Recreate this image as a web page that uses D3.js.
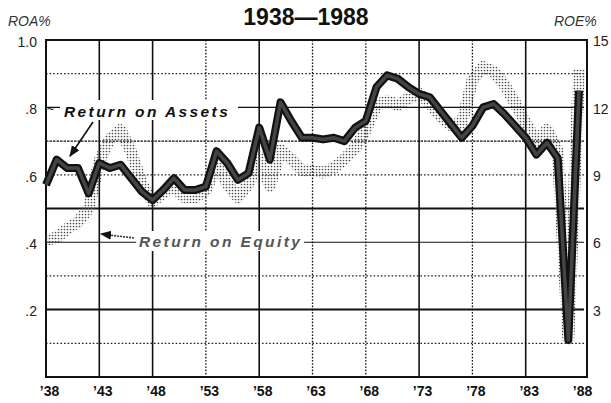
<!DOCTYPE html>
<html>
<head>
<meta charset="utf-8">
<script src="https://cdn.jsdelivr.net/npm/d3@7"></script>
<style>
  body { margin: 0; background: #fff; }
  svg { font-family: "Liberation Sans", Arial, sans-serif; }
</style>
</head>
<body>
<div id="chart"></div>
<script>
const width = 611, height = 403;
const pad = {l: 46, r: 24, t: 40, b: 26};

const years = d3.range(1938, 1989);
const roa = [0.57, 0.645, 0.62, 0.62, 0.545, 0.635, 0.62, 0.63, 0.59, 0.55,
             0.525, 0.555, 0.59, 0.555, 0.555, 0.565, 0.67, 0.635, 0.585, 0.605,
             0.74, 0.645, 0.815, 0.76, 0.71, 0.71, 0.705, 0.71, 0.70, 0.74,
             0.76, 0.86, 0.895, 0.885, 0.86, 0.84, 0.83, 0.79, 0.75, 0.71,
             0.745, 0.80, 0.81, 0.78, 0.745, 0.71, 0.66, 0.695, 0.65, 0.11,
             0.85];
const roe = [6.1, 6.2, 6.6, 6.9, 7.5, 9.6, 10.6, 11.0, 10.0, 8.6,
             7.8, 8.2, 8.5, 8.0, 8.0, 8.3, 9.5, 8.6, 8.0, 8.6,
             9.8, 8.5, 10.1, 9.7, 9.2, 9.2, 9.1, 9.3, 9.7, 10.2,
             11.0, 12.1, 12.3, 12.1, 12.4, 12.6, 12.2, 11.6, 11.2, 11.3,
             13.2, 13.8, 13.6, 13.0, 12.2, 11.3, 10.5, 11.0, 10.1, 1.7,
             13.7];
const roaTicks = [0.2, 0.4, 0.6, 0.8, 1.0];
const roeTicks = [3, 6, 9, 12, 15];
const yearTicks = d3.range(1938, 1989, 5);

const svg = d3.select('#chart').append('svg')
  .attr('width', width).attr('height', height);

const defs = svg.append('defs');
const pat = defs.append('pattern')
  .attr('id', 'stip').attr('patternUnits', 'userSpaceOnUse')
  .attr('width', 3).attr('height', 3);
pat.append('circle').attr('cx', 1.5).attr('cy', 1.5).attr('r', 0.85).attr('fill', '#4a4a4a');

const x = d3.scaleLinear().domain([1938, 1988.75]).range([pad.l, width - pad.r]);
const y = d3.scaleLinear().domain([0, 1]).range([height - pad.b, pad.t]);
const y2 = d3.scaleLinear().domain([0, 15]).range([height - pad.b, pad.t]);

// grid: horizontal every 0.1 with mixed styles like the print
const hStyle = {1: 'd', 2: 'S', 3: 'd', 4: 's', 5: 'S', 6: 'd', 7: 'k', 8: 's', 9: 'd'};
const grid = svg.append('g');
d3.range(1, 10).forEach(k => {
  const st = hStyle[k];
  grid.append('line')
    .attr('x1', pad.l).attr('x2', width - pad.r - 3)
    .attr('y1', y(k / 10)).attr('y2', y(k / 10))
    .attr('stroke', st === 'd' ? '#222' : '#111')
    .attr('stroke-width', st === 'S' ? 2 : (st === 'd' ? 1.2 : 1.1))
    .attr('stroke-dasharray', st === 'd' ? '1.6,2' : (st === 'k' ? '2.5,1' : null));
});
const solidYears = new Set([1943, 1948, 1958, 1973, 1983]);
yearTicks.slice(1, -1).forEach(yr => {
  const solid = solidYears.has(yr);
  grid.append('line')
    .attr('x1', x(yr)).attr('x2', x(yr))
    .attr('y1', pad.t).attr('y2', height - pad.b)
    .attr('stroke', '#111')
    .attr('stroke-width', solid ? 1.6 : 1.3)
    .attr('stroke-dasharray', solid ? null : '1.6,1.6');
});
// frame
svg.append('rect')
  .attr('x', pad.l).attr('y', pad.t)
  .attr('width', width - pad.r - pad.l).attr('height', height - pad.b - pad.t)
  .attr('fill', 'none').attr('stroke', '#111').attr('stroke-width', 2);

// axes
const axL = svg.append('g')
  .attr('transform', `translate(${pad.l - 6}, 0)`)
  .call(d3.axisLeft(y).tickValues(roaTicks).tickSize(0)
    .tickFormat(d => d === 1 ? '1.0' : d3.format('.1f')(d).replace(/^0/, '')));
axL.select('.domain').remove();
axL.selectAll('text').attr('font-size', 14).attr('fill', '#222').attr('dy', '0.45em');

const axR = svg.append('g')
  .attr('transform', `translate(${width - pad.r + 3}, 0)`)
  .call(d3.axisRight(y2).tickValues(roeTicks).tickSize(0));
axR.select('.domain').remove();
axR.selectAll('text').attr('font-size', 14).attr('fill', '#222').attr('dy', '0.4em');

const axB = svg.append('g')
  .attr('transform', `translate(3, ${height - pad.b + 6})`)
  .call(d3.axisBottom(x).tickValues(yearTicks).tickSize(0)
    .tickFormat(d => '\u2019' + String(d).slice(2)));
axB.select('.domain').remove();
axB.selectAll('text').attr('font-size', 14).attr('font-weight', 'bold').attr('fill', '#111');

// titles
svg.append('text').attr('x', 306).attr('y', 25).attr('text-anchor', 'middle')
  .attr('font-size', 23).attr('font-weight', 'bold').attr('fill', '#111')
  .text('1938\u20141988');
svg.append('text').attr('x', 8).attr('y', 26)
  .attr('font-size', 14).attr('font-style', 'italic').attr('fill', '#333').text('ROA%');
svg.append('text').attr('x', 554).attr('y', 26)
  .attr('font-size', 14).attr('font-style', 'italic').attr('fill', '#333').text('ROE%');

// ROE stippled band
const lineE = d3.line().x((d, i) => x(years[i])).y(d => y2(d));
svg.append('path').datum(roe)
  .attr('d', lineE).attr('fill', 'none')
  .attr('stroke', 'url(#stip)').attr('stroke-width', 12)
  .attr('stroke-linejoin', 'round');

// ROA thick band
const lineA = d3.line().x((d, i) => x(years[i])).y(d => y(d));
svg.append('path').datum(roa)
  .attr('d', lineA).attr('fill', 'none')
  .attr('stroke', '#111').attr('stroke-width', 8).attr('stroke-linejoin', 'round');
svg.append('path').datum(roa)
  .attr('d', lineA).attr('fill', 'none')
  .attr('stroke', '#444').attr('stroke-width', 3.5).attr('stroke-linejoin', 'round');

// annotations
const ann = svg.append('g').attr('font-style', 'italic').attr('font-weight', 'bold')
  .attr('font-size', 15.5).attr('letter-spacing', 2.4);
ann.append('rect').attr('x', 60).attr('y', 100).attr('width', 178).attr('height', 20).attr('fill', '#fff');
ann.append('text').attr('x', 64).attr('y', 117).attr('fill', '#111').text('Return on Assets');
ann.append('text').attr('x', 47).attr('y', 113).attr('font-style', 'normal').attr('font-weight', 'normal')
  .attr('font-size', 12).attr('letter-spacing', 0).attr('fill', '#111').text('~');
ann.append('rect').attr('x', 136).attr('y', 231).attr('width', 168).attr('height', 20).attr('fill', '#fff');
ann.append('text').attr('x', 139).attr('y', 247).attr('fill', '#555').text('Return on Equity');

defs.append('marker').attr('id', 'ah').attr('viewBox', '0 0 10 10')
  .attr('refX', 9).attr('refY', 5).attr('markerWidth', 7).attr('markerHeight', 7)
  .attr('orient', 'auto-start-reverse')
  .append('path').attr('d', 'M0,1 L10,5 L0,9 Z').attr('fill', '#111');
svg.append('line').attr('x1', 93).attr('y1', 122).attr('x2', 70).attr('y2', 156)
  .attr('stroke', '#111').attr('stroke-width', 1.6).attr('marker-end', 'url(#ah)');
svg.append('line').attr('x1', 134).attr('y1', 238).attr('x2', 101).attr('y2', 234)
  .attr('stroke', '#333').attr('stroke-width', 1.6).attr('stroke-dasharray', '2,1')
  .attr('marker-end', 'url(#ah)');
</script>
</body>
</html>
